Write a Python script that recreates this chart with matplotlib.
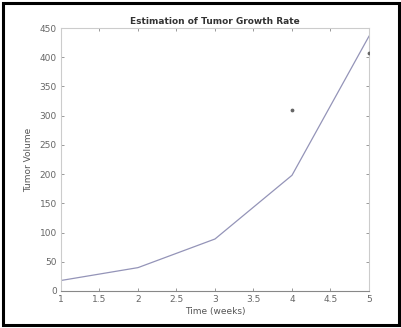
import matplotlib
matplotlib.use("Agg")
import matplotlib.pyplot as plt
from matplotlib.patches import Rectangle

weeks = [1, 2, 3, 4, 5]
model_volume = [18, 40, 89, 198, 436]
obs_weeks = [4, 5]
obs_volume = [310, 408]
xticks = [1, 1.5, 2, 2.5, 3, 3.5, 4, 4.5, 5]
yticks = [0, 50, 100, 150, 200, 250, 300, 350, 400, 450]

fig = plt.figure(figsize=(4.02, 3.28), dpi=100)
ax = fig.add_axes([61/402, 37/328, 308/402, 263/328])
ax.plot(weeks, model_volume, color="#9494b8", lw=0.9)
ax.scatter(obs_weeks, obs_volume, s=3, color="#666666", zorder=3)
ax.set_xlim(1, 5)
ax.set_ylim(0, 450)
ax.set_xticks(xticks)
ax.set_xticklabels(["1", "1.5", "2", "2.5", "3", "3.5", "4", "4.5", "5"])
ax.set_yticks(yticks)
for s in ax.spines.values():
    s.set_color("#cccccc")
    s.set_linewidth(0.8)
ax.spines["bottom"].set_color("#888888")
ax.tick_params(axis="both", which="both", direction="in", length=2.5, width=0.7,
               color="#999999", labelcolor="#666666", labelsize=6.5, pad=3,
               top=True, right=True)
ax.set_xlabel("Time (weeks)", fontsize=6.5, color="#555555", labelpad=2)
ax.set_ylabel("Tumor Volume", fontsize=6.5, color="#555555", labelpad=5)
ax.set_title("Estimation of Tumor Growth Rate", fontsize=6.5, fontweight="bold",
             color="#333333", pad=3)
fig.patches.append(Rectangle((0.007, 0.01), 0.986, 0.982, transform=fig.transFigure,
                             fill=False, edgecolor="black", lw=2.2))
fig.savefig("out.png", dpi=100)
